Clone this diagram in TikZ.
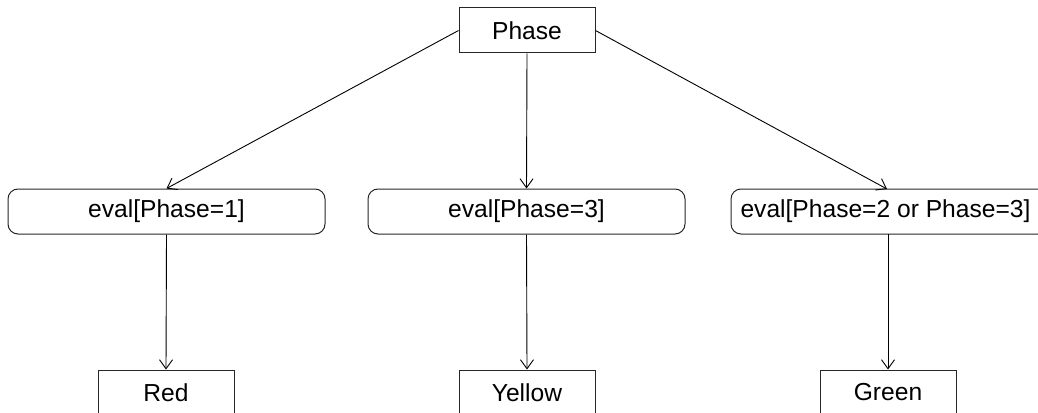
\documentclass[tikz,border=0pt]{standalone}
\usepackage{fontspec}
\setmainfont{Liberation Sans}
\usetikzlibrary{arrows.meta}
\begin{document}
\begin{tikzpicture}[x=1pt,y=-1pt,
  every node/.style={font=\fontsize{24.6}{28}\selectfont, inner sep=0pt, line width=1pt, draw=black!85},
  sqbox/.style={rectangle, minimum width=136pt, minimum height=45pt},
  evbox/.style={rectangle, rounded corners=10pt, minimum width=317pt, minimum height=45pt},
  conn/.style={line width=0.9pt, -{Straight Barb[length=9pt,width=13pt,line width=0.9pt]}}]
\useasboundingbox (0,0) rectangle (1038,412);
\clip (0,0) rectangle (1038,412);
\node[sqbox] (phase) at (527,30.5) {Phase};
\node[evbox] (e1) at (166.5,211.5) {eval[Phase=1]};
\node[evbox] (e2) at (526.5,211.5) {eval[Phase=3]};
\node[evbox] (e3) at (889.5,211.5) {};
\node[draw=none] (e3t) at (885.5,211.5) {eval[Phase=2 or Phase=3]};
\node[sqbox] (red) at (166,392.5) {Red};
\node[sqbox] (yellow) at (527,392.5) {Yellow};
\node[sqbox] (green) at (888,392.5) {Green};
\coordinate (e3top) at (887,189);
\coordinate (e3bot) at (888,234);
\draw[conn] (phase.west) -- (e1.north);
\draw[conn] (phase.south) -- (e2.north);
\draw[conn] (phase.east) -- (e3top);
\draw[conn] (e1.south) -- (red.north);
\draw[conn] (e2.south) -- (yellow.north);
\draw[conn] (e3bot) -- (green.north);
\end{tikzpicture}
\end{document}
